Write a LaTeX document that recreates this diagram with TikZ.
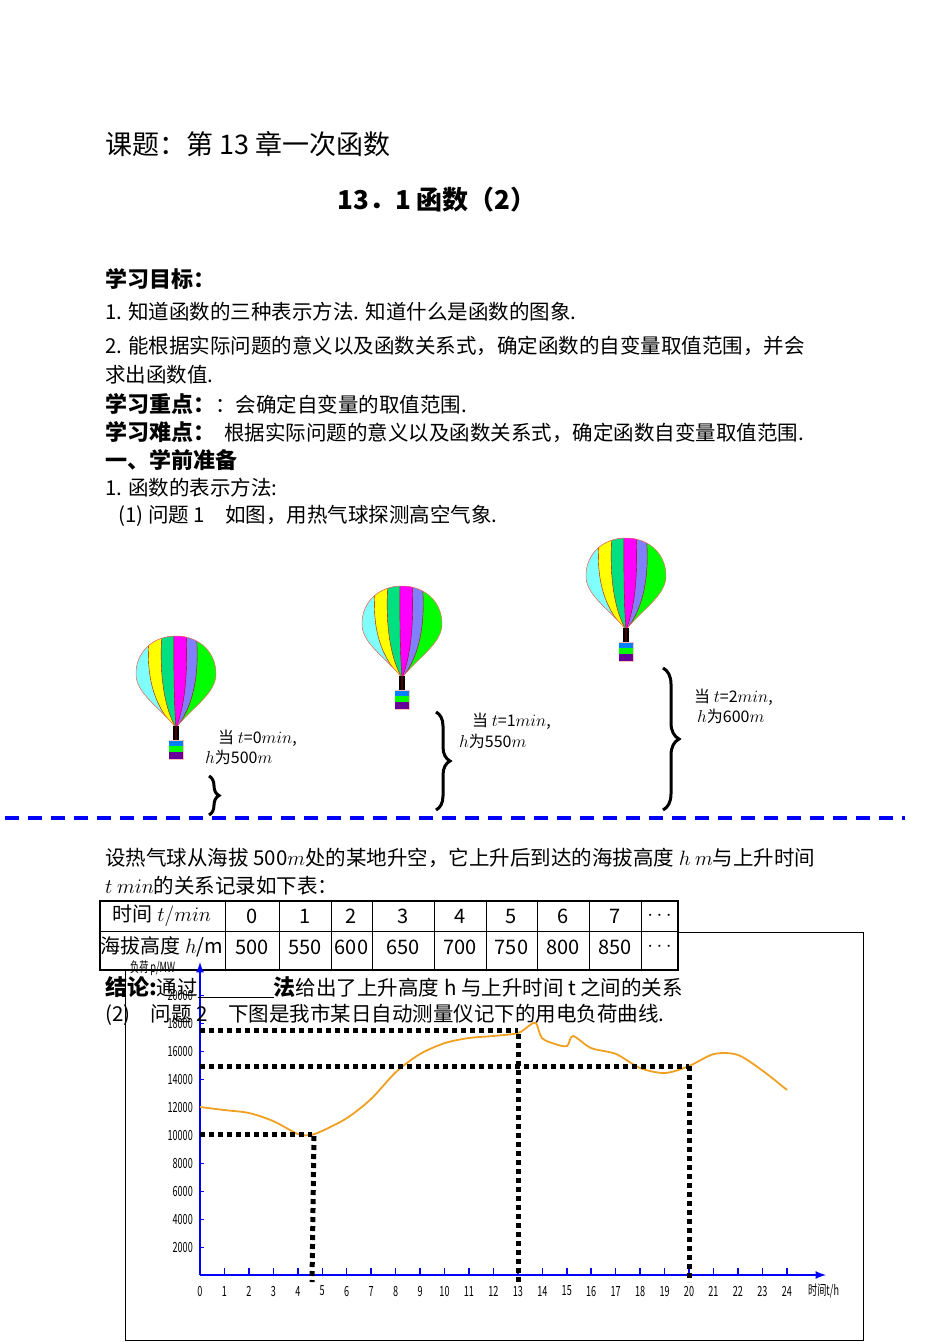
\documentclass[tikz,border=0pt]{standalone}
\usepackage{fontspec}
\setmainfont{Noto Sans CJK SC}
\usetikzlibrary{decorations.pathreplacing}
\definecolor{bcyan}{HTML}{80FFFF}
\definecolor{byellow}{HTML}{FFFF00}
\definecolor{bteal}{HTML}{00E080}
\definecolor{bmag}{HTML}{FF00FF}
\definecolor{bpurple}{HTML}{8080FF}
\definecolor{bgreen}{HTML}{00FF00}
\definecolor{curvec}{HTML}{F0A020}
\newcommand\balpath{(0,92) .. controls (-15,72) and (-40,58) .. (-40,38) .. controls (-40,15) and (-22,0) .. (0,0) .. controls (22,0) and (40,15) .. (40,38) .. controls (40,58) and (15,72) .. (0,92)}
\newcommand\band[2]{\fill[#2] (-45,-5) -- (#1,-5) .. controls ({#1*1.25},45) and ({#1*0.7},75) .. (0,92) -- (-45,92) -- cycle;
 \draw[red!70!black,line width=0.4pt] (#1,-5) .. controls ({#1*1.25},45) and ({#1*0.7},75) .. (0,92);}
\newcommand\balloon[3]{\begin{scope}[shift={(#1,#2)}]
 \begin{scope}\clip \balpath;
 \fill[bgreen] (-45,-5) rectangle (45,95);
 \band{20}{bpurple}\band{10}{bmag}\band{-2}{bteal}\band{-14}{byellow}\band{-26}{bcyan}
 \end{scope}
 \draw[red!60,line width=0.5pt] \balpath;
 \draw[line width=1.2pt] (-2,90) -- (-2,104) (2,90) -- (2,104);
 \fill[black!70!red] (-1,90) rectangle (1,104);
 \node[name=#3,inner sep=0,minimum width=14pt,minimum height=19pt,fill=bpurple!60!blue,draw=pink] at (0,114) {};
 \fill[blue!50!cyan] (-7,104.5) rectangle (7,110);
 \fill[bgreen] (-7,110) rectangle (7,116);
 \fill[violet!80!blue] (-7,116) rectangle (7,123);
\end{scope}}
\tikzset{txt/.style={anchor=west,inner sep=0,font=\fontsize{20.5}{22}\selectfont},
 btxt/.style={txt,font=\fontsize{22}{24}\selectfont\bfseries},
 lab/.style={anchor=west,inner sep=0,font=\fontsize{16}{18}\selectfont},
 brc/.style={decorate,decoration={brace,amplitude=#1},line width=3pt},
 dots/.style={line width=5pt,dash pattern=on 5pt off 4pt},
 tick/.style={inner sep=0,font=\fontsize{14}{14}\selectfont\addfontfeatures{FakeStretch=0.65}}}
\begin{document}
\begin{tikzpicture}[x=1pt,y=-1pt]
\useasboundingbox (0,0) rectangle (950,1342);
\node[txt,font=\fontsize{27}{30}\selectfont] (t1) at (105,144) {课题：第 13 章一次函数};
\node[inner sep=0,font=\fontsize{26}{30}\selectfont\bfseries] (t2) at (437,200) {13．1 函数（2）};
\node[btxt] (t3) at (105,279) {学习目标：};
\node[txt] (t4) at (105,312) {1. 知道函数的三种表示方法. 知道什么是函数的图象.};
\node[txt] (t5) at (105,346) {2. 能根据实际问题的意义以及函数关系式，确定函数的自变量取值范围，并会};
\node[txt] (t6) at (105,375) {求出函数值.};
\node[txt] (t7) at (105,404) {\fontsize{22}{24}\selectfont\bfseries 学习重点：\fontsize{20.5}{22}\mdseries ：会确定自变量的取值范围.};
\node[txt] (t8) at (105,432) {\fontsize{22}{24}\selectfont\bfseries 学习难点：\fontsize{20.5}{22}\mdseries\ \ 根据实际问题的意义以及函数关系式，确定函数自变量取值范围.};
\node[btxt] (t9) at (105,460) {一、学前准备};
\node[txt] (t10) at (105,488) {1. 函数的表示方法:};
\node[txt] (t11) at (118,516) {(1) 问题 1\quad 如图，用热气球探测高空气象.};
% balloons
\balloon{176}{636}{b1}
\balloon{402}{586}{b2}
\balloon{626}{538}{b3}
\draw[brc=10pt] (209,776) coordinate (r1) -- (209,815) coordinate (r2);
\draw[brc=14pt] (436,712) coordinate (r3) -- (436,810) coordinate (r4);
\draw[brc=16pt] (663,668) coordinate (r5) -- (663,810) coordinate (r6);
\node[lab] (l1) at (218,738) {当 $t$=0$min$,};
\node[lab] (l1b) at (205,757) {$h$为500$m$};
\node[lab] (l2) at (472,721) {当 $t$=1$min$,};
\node[lab] (l2b) at (459,741) {$h$为550$m$};
\node[lab] (l3) at (694,697) {当 $t$=2$min$,};
\node[lab] (l3b) at (697,716) {$h$为600$m$};
\coordinate (g1) at (5,818); \coordinate (g2) at (905,818);
\draw[blue,line width=3.5pt,dash pattern=on 14pt off 9pt] (g1) -- (g2);
\node[txt] (t12) at (105,858) {设热气球从海拔 500$m$处的某地升空，它上升后到达的海拔高度 $h$ $m$与上升时间};
\node[txt] (t13) at (105,886) {$t$ $min$的关系记录如下表：};
% frame
\draw[line width=0.6pt] (125,932) rectangle (863,1340);
% table
\fill[white] (100,901) rectangle (678,970);
\draw[line width=2.2pt] (100,901) rectangle (678,970);
\draw[line width=1pt] (100,931) -- (678,931);
\foreach \x in {225,279,331,372,434,486,537,589,641} \draw[line width=1pt] (\x,901) -- (\x,970);
\node[inner sep=0,font=\fontsize{20}{22}\selectfont] (h0) at (162,916) {时间 $t/min$};
\node[inner sep=0,font=\fontsize{20}{22}\selectfont] (v0) at (162,947) {海拔高度 $h$/m};
\foreach \a/\b/\t/\v [count=\i] in {225/279/0/500,279/331/1/550,331/372/2/600,372/434/3/650,434/486/4/700,486/537/5/750,537/589/6/800,589/641/7/850,641/678/$\cdots$/$\cdots$}{
 \node[inner sep=0,font=\fontsize{20}{22}\selectfont] (h\i) at ({(\a+\b)/2},916) {\t};
 \node[inner sep=0,font=\fontsize{20}{22}\selectfont] (v\i) at ({(\a+\b)/2},947) {\v};}
% chart
\coordinate (o) at (200,1275);
\coordinate (xe) at (826,1275);
\coordinate (ye) at (200,962);
\draw[blue,line width=2.5pt,-latex] (o) -- (xe);
\draw[blue,line width=2.5pt,-latex] (o) -- (ye);
\foreach \h in {0,...,24}{
 \draw[blue,line width=1.5pt] ({200+24.45*\h},1275) -- ({200+24.45*\h},1268);
 \node[tick] (xt\h) at ({200+24.45*\h},1291) {\h};}
\foreach \k in {1,...,10}{
 \draw[blue,line width=1pt] (200,{1275-28*\k}) -- (204,{1275-28*\k});
 \node[tick,anchor=east] (yt\k) at (193,{1275-28*\k}) {\the\numexpr\k*2000\relax};}
\node[tick,anchor=west] (xl) at (808,1291) {时间t/h};
\node[tick,anchor=west] (yl) at (130,968) {负荷 p/MW};
\draw[curvec,line width=1.8pt] plot[smooth,tension=0.5] coordinates {
(200,1107) (224,1110) (249,1113) (273,1121) (298,1134) (310,1135) (322,1131) (347,1118) (371,1099) (396,1072) (420,1054) (445,1043) (469,1038) (493,1036) (518,1033) (530,1025) (536,1023) (542,1038) (555,1044) (567,1046) (573,1036) (591,1048) (616,1054) (640,1068) (665,1073) (689,1066) (714,1054) (738,1055) (763,1071) (787,1090)};
\draw[dots] (200,1030) -- (518,1030);
\draw[dots] (518,1034) -- (518,1282);
\draw[dots] (200,1066) -- (689,1066);
\draw[dots] (689,1066) -- (689,1282);
\draw[dots] (200,1134) -- (312,1134);
\draw[dots] (314,1136) -- (312,1282);
\node[txt] (t14) at (105,987) {\fontsize{22}{24}\selectfont\bfseries 结论:\fontsize{20.5}{22}\mdseries 通过\underline{\hspace{76pt}}\fontsize{22}{24}\bfseries 法\fontsize{20.5}{22}\mdseries 给出了上升高度 h 与上升时间 t 之间的关系};
\node[txt] (t15) at (105,1015) {(2)\quad 问题 2\quad 下图是我市某日自动测量仪记下的用电负荷曲线.};
\end{tikzpicture}
\end{document}
